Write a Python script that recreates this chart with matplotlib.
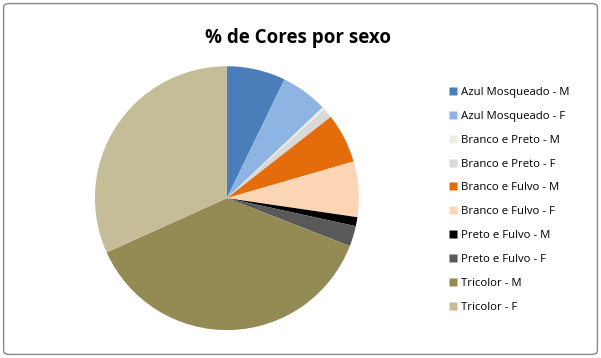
import matplotlib.pyplot as plt
from matplotlib.patches import FancyBboxPatch
from matplotlib.lines import Line2D

# Slice data (percent)
labels = ['Azul Mosqueado - M', 'Azul Mosqueado - F', 'Branco e Preto - M',
          'Branco e Preto - F', 'Branco e Fulvo - M', 'Branco e Fulvo - F',
          'Preto e Fulvo - M', 'Preto e Fulvo - F', 'Tricolor - M', 'Tricolor - F']
values = [7.2, 5.75, 0.3, 1.2, 6.1, 6.8, 1.1, 2.5, 37.4, 31.8]
colors = ['#4A7EBB', '#8EB4E3', '#EEECE1', '#D9D9D9', '#E46C0A',
          '#FCD5B5', '#000000', '#595959', '#948A54', '#C4BD97']

plt.rcParams['font.family'] = ['Open Sans', 'DejaVu Sans']

fig = plt.figure(figsize=(6.01, 3.58), dpi=100)

# rounded outer frame like the spreadsheet chart area
frame = FancyBboxPatch((0.006, 0.01), 0.988, 0.98, boxstyle='round,pad=0,rounding_size=0.01',
                       transform=fig.transFigure, facecolor='none', edgecolor='#888888',
                       linewidth=1.0, zorder=0)
fig.patches.append(frame)

ax = fig.add_axes([0.158, 0.078, 0.439, 0.737])
ax.pie(values, colors=colors, startangle=90, counterclock=False,
       wedgeprops=dict(linewidth=0))
ax.set_xlim(-1, 1)
ax.set_ylim(-1, 1)
ax.set_aspect('equal')

fig.text(0.496, 0.893, '% de Cores por sexo', ha='center', va='center',
         fontsize=13.5, fontweight='bold')

handles = [Line2D([], [], linestyle='none', marker='s', markersize=6,
                  markerfacecolor=c, markeredgecolor='none') for c in colors]
leg = fig.legend(handles, labels, loc='upper left', bbox_to_anchor=(0.741, 0.77),
                 frameon=False, fontsize=8.2, handlelength=0.6,
                 handletextpad=0.35, labelspacing=1.13, borderaxespad=0)

fig.savefig('out.png', dpi=100)
